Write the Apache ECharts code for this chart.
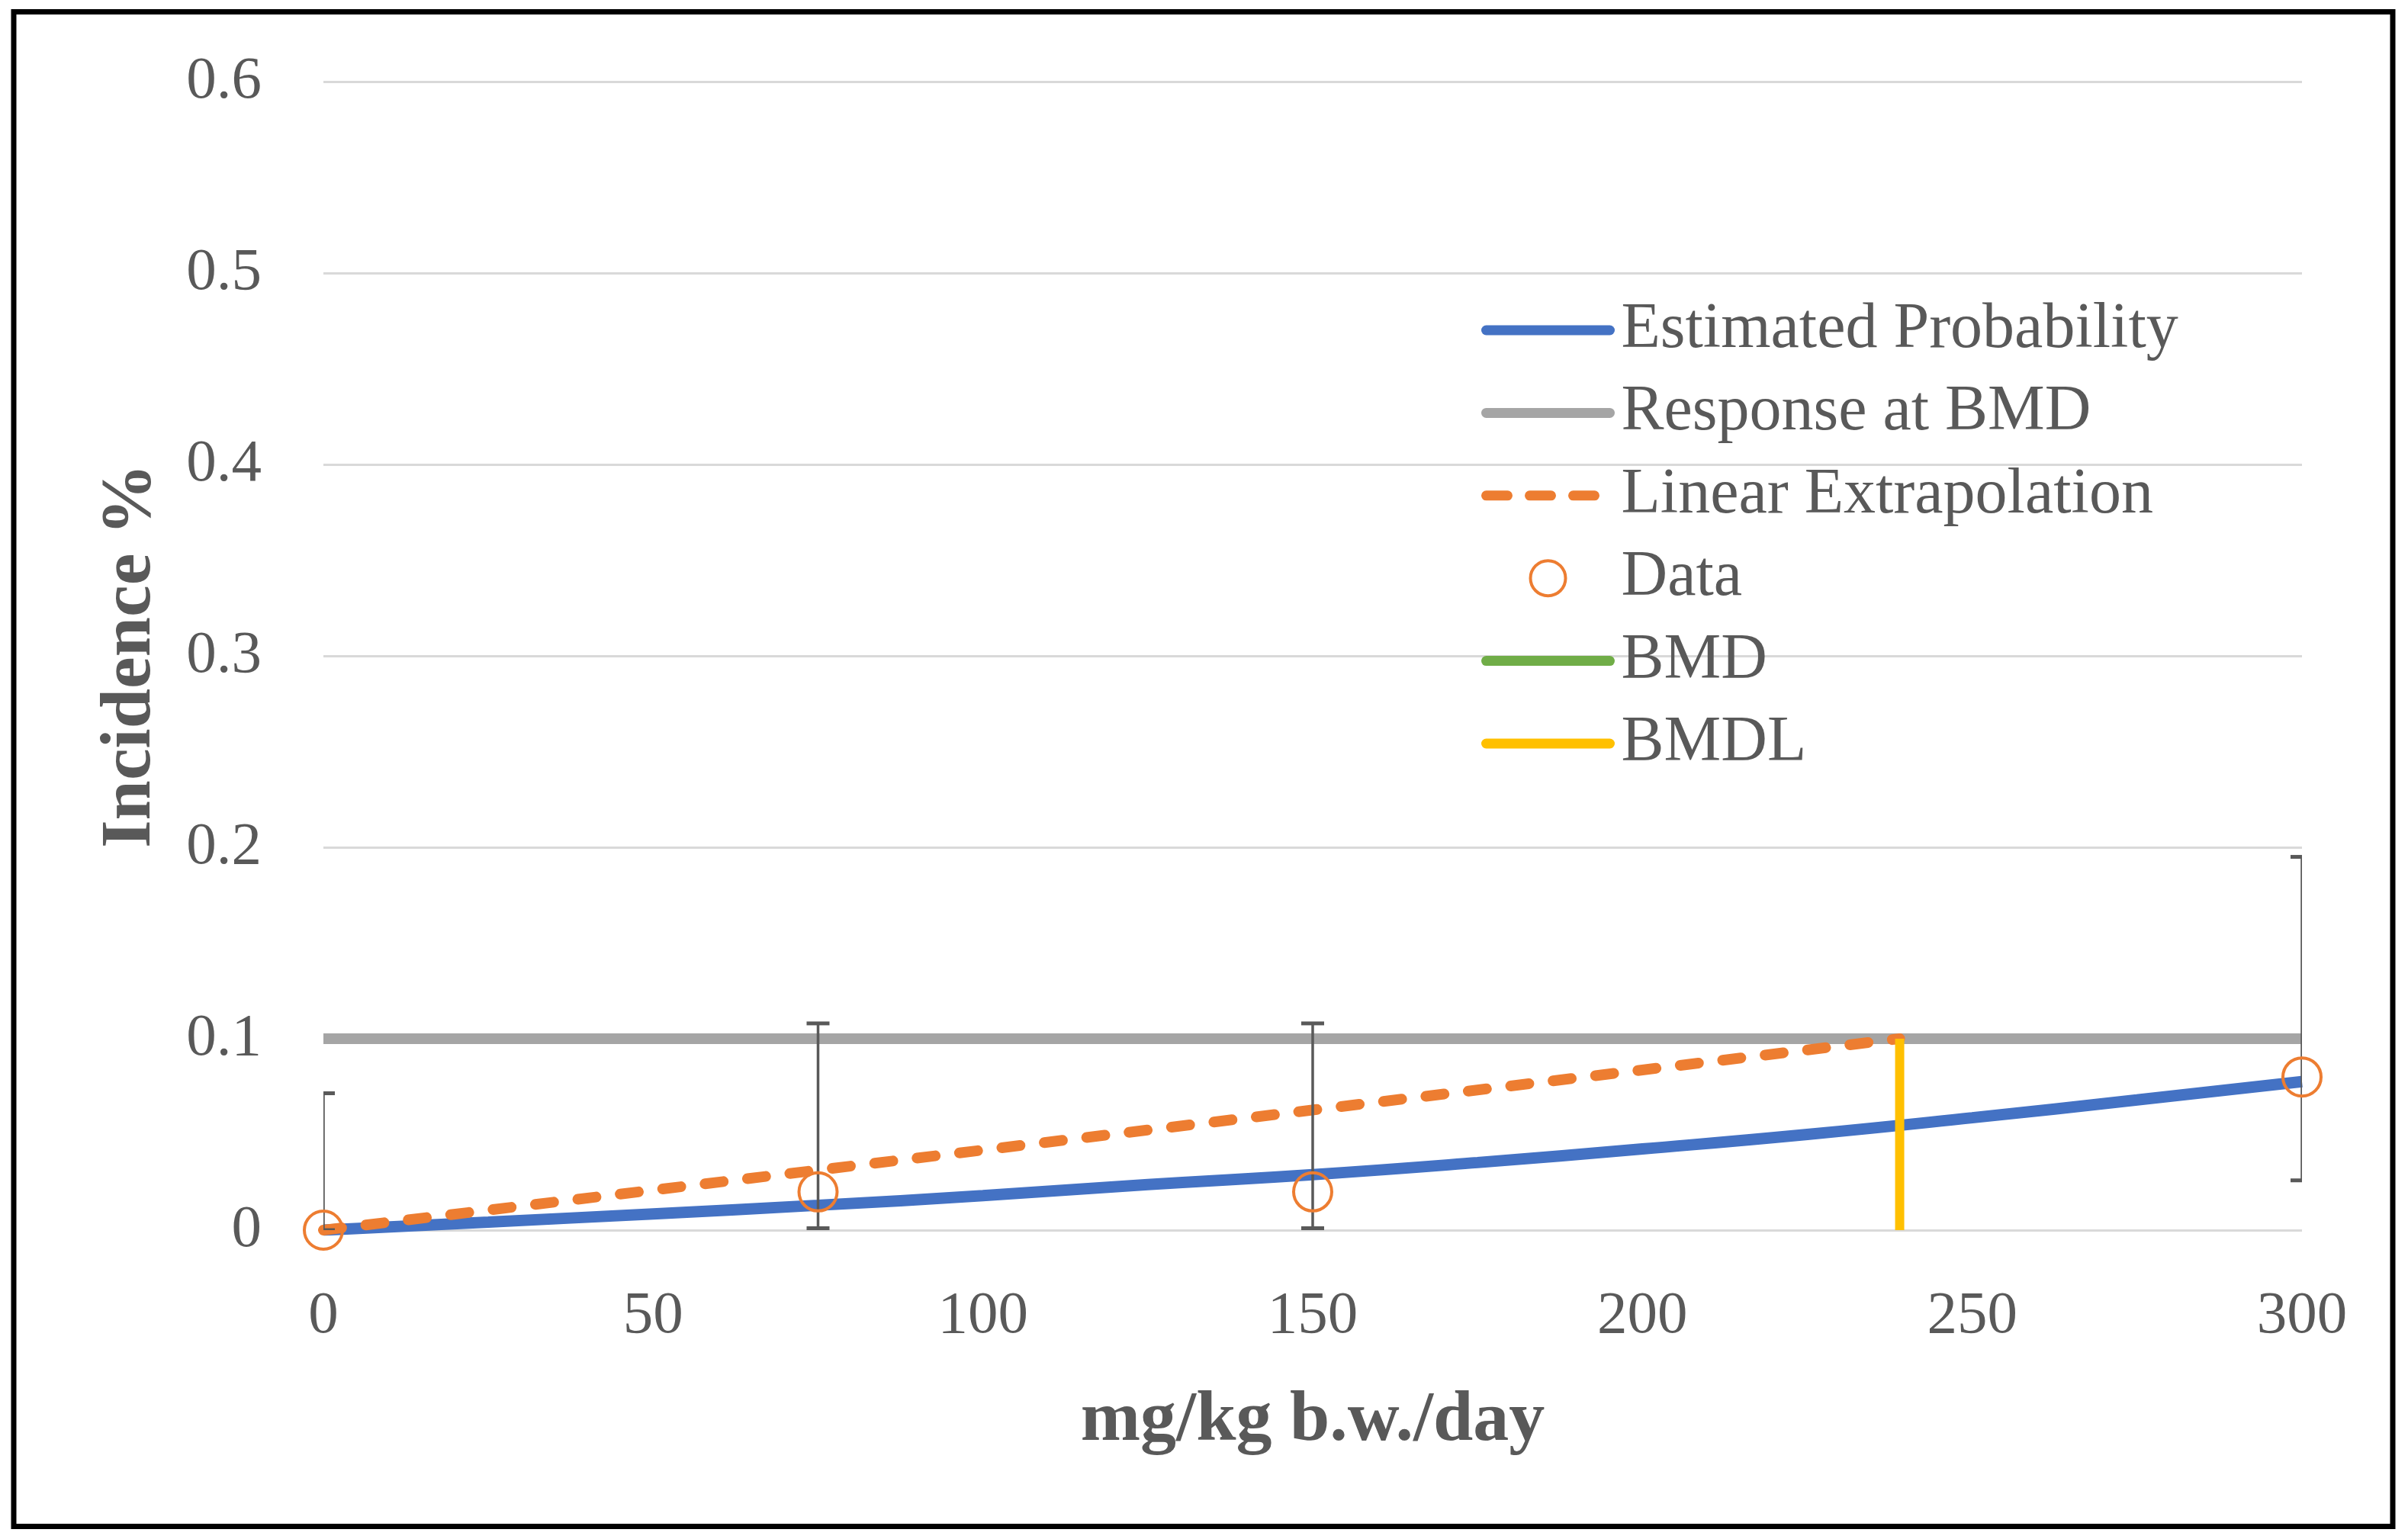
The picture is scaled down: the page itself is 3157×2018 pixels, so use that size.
<!DOCTYPE html>
<html>
<head>
<meta charset="utf-8">
<script src="https://cdn.jsdelivr.net/npm/echarts@6/dist/echarts.min.js"></script>
<style>
html,body{margin:0;padding:0;background:#fff;}
#chart{width:3157px;height:2018px;}
</style>
</head>
<body>
<div id="chart"></div>
<script>
// ---- data ----
const modelDoses = [0, 25, 50, 75, 100, 125, 150, 175, 200, 225, 250, 275, 300];
const estimatedProbability = [0, 0.0042, 0.0085, 0.013, 0.018, 0.0238, 0.029, 0.0353, 0.0424, 0.050, 0.0587, 0.068, 0.0776];
const responseAtBMD = 0.1;
const bmdlDose = 239;
const dataDoses = [0, 75, 150, 300];
const dataIncidence = [0, 0.02, 0.02, 0.08];
const errLower = [0, 0.001, 0.001, 0.026];
const errUpper = [0.0715, 0.108, 0.108, 0.195];
const xTickValues = [0, 50, 100, 150, 200, 250, 300];
const yTickValues = [0, 0.1, 0.2, 0.3, 0.4, 0.5, 0.6];
const legendNames = ['Estimated Probability', 'Response at BMD', 'Linear Extrapolation', 'Data', 'BMD', 'BMDL'];

const FONT = '"Liberation Serif", "Times New Roman", serif';
const TXT = '#595959';
const ORANGE = '#ed7d31';

const chart = echarts.init(document.getElementById('chart'), null, {renderer: 'canvas'});

function legendItem(n) {
  if (n === 'Data') {
    return {name: n, icon: 'circle', itemStyle: {opacity: 1, color: 'rgba(255,255,255,0)', borderColor: ORANGE, borderWidth: 4}};
  }
  if (n === 'Linear Extrapolation') {
    return {name: n, lineStyle: {width: 13, cap: 'round', type: [28, 29]}};
  }
  return {name: n};
}

const option = {
  animation: false,
  backgroundColor: '#ffffff',
  textStyle: {fontFamily: FONT},
  graphic: [{
    type: 'rect',
    shape: {x: 18, y: 15.5, width: 3119, height: 1986},
    style: {fill: 'none', stroke: '#000', lineWidth: 7},
    z: 100
  }],
  grid: {left: 424, right: 3157 - 3018, top: 107, bottom: 2018 - 1613, containLabel: false, outerBoundsMode: 'none'},
  legend: {
    orient: 'vertical',
    left: 1942,
    top: 391,
    padding: 0,
    itemWidth: 162,
    itemHeight: 46,
    itemGap: 24.4,
    selectedMode: false,
    itemStyle: {opacity: 0},
    lineStyle: {width: 13, cap: 'round'},
    data: legendNames.map(legendItem),
    textStyle: {fontFamily: FONT, fontSize: 84, color: TXT, padding: [0, 0, 0, 10]}
  },
  xAxis: {
    type: 'value',
    min: xTickValues[0],
    max: xTickValues[xTickValues.length - 1],
    interval: 50,
    name: 'mg/kg b.w./day',
    nameLocation: 'middle',
    nameGap: 204,
    nameTextStyle: {fontFamily: FONT, fontSize: 94, fontWeight: 'bold', color: TXT},
    axisLine: {show: false},
    axisTick: {show: false},
    splitLine: {show: false},
    axisLabel: {fontFamily: FONT, fontSize: 79, color: TXT, margin: 74}
  },
  yAxis: {
    type: 'value',
    min: yTickValues[0],
    max: yTickValues[yTickValues.length - 1],
    interval: 0.1,
    name: 'Incidence %',
    nameLocation: 'middle',
    nameGap: 205,
    nameTextStyle: {fontFamily: FONT, fontSize: 94, fontWeight: 'bold', color: TXT},
    axisLine: {show: false},
    axisTick: {show: false},
    splitLine: {show: true, lineStyle: {color: '#d9d9d9', width: 3}},
    axisLabel: {fontFamily: FONT, fontSize: 79, color: TXT, margin: 81}
  },
  series: [
    {
      name: 'Estimated Probability',
      type: 'line',
      symbol: 'none',
      smooth: true,
      data: modelDoses.map((d, i) => [d, estimatedProbability[i]]),
      lineStyle: {color: '#4472c4', width: 15, cap: 'butt'},
      itemStyle: {color: '#4472c4'},
      z: 2
    },
    {
      name: 'Response at BMD',
      type: 'line',
      symbol: 'none',
      data: [[xTickValues[0], responseAtBMD], [xTickValues[xTickValues.length - 1], responseAtBMD]],
      lineStyle: {color: '#a5a5a5', width: 14, cap: 'butt'},
      itemStyle: {color: '#a5a5a5'},
      z: 2
    },
    {
      name: 'Linear Extrapolation',
      type: 'line',
      symbol: 'none',
      data: [[0, 0], [bmdlDose, responseAtBMD]],
      lineStyle: {color: ORANGE, width: 14, type: [24, 32], cap: 'round'},
      itemStyle: {color: ORANGE},
      z: 3
    },
    {
      name: 'BMD',
      type: 'line',
      symbol: 'none',
      data: [],
      lineStyle: {color: '#70ad47', width: 13, cap: 'round'},
      itemStyle: {color: '#70ad47'},
      z: 3
    },
    {
      name: 'BMDL',
      type: 'line',
      symbol: 'none',
      data: [[bmdlDose, 0], [bmdlDose, responseAtBMD]],
      lineStyle: {color: '#ffc000', width: 12, cap: 'butt'},
      itemStyle: {color: '#ffc000'},
      z: 4
    },
    {
      name: 'errorbars',
      type: 'custom',
      clip: true,
      data: dataDoses.map((d, i) => [d, errLower[i], errUpper[i]]),
      encode: {x: 0, y: [1, 2]},
      renderItem: function (params, api) {
        const x = api.value(0);
        const pLo = api.coord([x, api.value(1)]);
        const pHi = api.coord([x, api.value(2)]);
        const hw = 15;
        const st = {stroke: '#595959', lineWidth: 3.5};
        const cap = {stroke: '#595959', lineWidth: 5};
        return {
          type: 'group',
          children: [
            {type: 'line', shape: {x1: pLo[0], y1: pLo[1], x2: pHi[0], y2: pHi[1]}, style: st},
            {type: 'line', shape: {x1: pHi[0] - hw, y1: pHi[1], x2: pHi[0] + hw, y2: pHi[1]}, style: cap},
            {type: 'line', shape: {x1: pLo[0] - hw, y1: pLo[1], x2: pLo[0] + hw, y2: pLo[1]}, style: cap}
          ]
        };
      },
      z: 5
    },
    {
      name: 'Data',
      type: 'scatter',
      symbol: 'circle',
      symbolSize: 50,
      data: dataDoses.map((d, i) => [d, dataIncidence[i]]),
      itemStyle: {color: 'rgba(255,255,255,0)', borderColor: ORANGE, borderWidth: 4, opacity: 1},
      clip: false,
      z: 6
    }
  ]
};
chart.setOption(option);
</script>
</body>
</html>
